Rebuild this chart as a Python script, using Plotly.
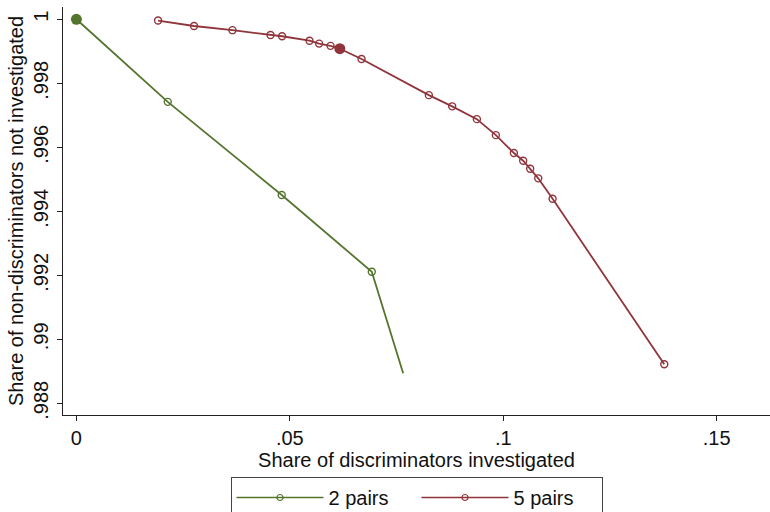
import plotly.graph_objects as go

# ---- data ----
green_x = [0.0, 0.0214, 0.0481, 0.0692, 0.07655]
green_y = [1.0, 0.99742, 0.99451, 0.99211, 0.98894]
green_marked = [1, 2, 3]          # indices drawn with hollow markers
green_highlight = [0]             # index drawn with the big filled marker

red_x = [0.01913, 0.02756, 0.03656, 0.04547, 0.04819, 0.05461, 0.05686, 0.05953,
         0.06171, 0.06680, 0.08257, 0.08803, 0.09382, 0.09827, 0.10249, 0.10467,
         0.10631, 0.10819, 0.11156, 0.13772]
red_y = [0.99996, 0.99979, 0.99966, 0.99951, 0.99947, 0.99933, 0.99924, 0.99917,
         0.99908, 0.99876, 0.99763, 0.99728, 0.99688, 0.99638, 0.99582, 0.99558,
         0.99533, 0.99503, 0.99439, 0.98922]
red_marked = [i for i in range(len(red_x)) if i != 8]
red_highlight = [8]

series_names = ["2 pairs", "5 pairs"]
x_ticks = [0, 0.05, 0.1, 0.15]
x_ticklabels = ["0", ".05", ".1", ".15"]
y_ticks = [0.988, 0.99, 0.992, 0.994, 0.996, 0.998, 1.0]
y_ticklabels = [".988", ".99", ".992", ".994", ".996", ".998", "1"]
x_title = "Share of discriminators investigated"
y_title = "Share of non-discriminators not investigated"

GREEN = "#55752F"
RED = "#90353B"
FONT = "Liberation Sans, Arial, sans-serif"
FS = 20

fig = go.Figure()

def add_series(xs, ys, marked, highlight, color, name):
    fig.add_trace(go.Scatter(x=xs, y=ys, mode="lines", line=dict(color=color, width=1.8),
                             showlegend=False, hoverinfo="skip"))
    fig.add_trace(go.Scatter(x=[xs[i] for i in marked], y=[ys[i] for i in marked],
                             mode="markers",
                             marker=dict(symbol="circle-open", size=7, color=color,
                                         line=dict(width=1.4, color=color)),
                             showlegend=False))
    fig.add_trace(go.Scatter(x=[xs[i] for i in highlight], y=[ys[i] for i in highlight],
                             mode="markers",
                             marker=dict(symbol="circle", size=11, color=color),
                             showlegend=False))
    # legend entry
    fig.add_trace(go.Scatter(x=[None], y=[None], mode="lines+markers", name=name,
                             line=dict(color=color, width=1.3),
                             marker=dict(symbol="circle-open", size=6, color=color,
                                         line=dict(width=1.2, color=color))))

add_series(green_x, green_y, green_marked, green_highlight, GREEN, series_names[0])
add_series(red_x, red_y, red_marked, red_highlight, RED, series_names[1])

axis_common = dict(showgrid=False, zeroline=False, showline=True, linecolor="#222",
                   linewidth=1.3, ticks="outside", ticklen=5, tickcolor="#222",
                   tickwidth=1.3, tickfont=dict(family=FONT, size=FS, color="#111"),
                   mirror=False)

fig.update_xaxes(range=[-0.00314, 0.16249], tickvals=x_ticks, ticktext=x_ticklabels,
                 title=dict(text=x_title, font=dict(family=FONT, size=FS, color="#111"),
                            standoff=0),
                 **axis_common)
fig.update_yaxes(range=[0.987634, 1.000384], tickvals=y_ticks, ticktext=y_ticklabels,
                 tickangle=-90, ticklabelstandoff=1,
                 title=dict(text=y_title, font=dict(family=FONT, size=FS, color="#111"),
                            standoff=0),
                 **axis_common)

fig.update_layout(
    width=770, height=512,
    margin=dict(l=63, r=0, t=7, b=97, autoexpand=False),
    paper_bgcolor="white", plot_bgcolor="white",
    font=dict(family=FONT, size=FS, color="#111"),
    legend=dict(orientation="h", xanchor="center", x=0.5, yanchor="top", y=-0.152,
                bordercolor="#444", borderwidth=1, bgcolor="white",
                font=dict(family=FONT, size=FS, color="#111"),
                itemwidth=87, entrywidth=83, entrywidthmode="pixels",
                tracegroupgap=0),
)

fig.write_html("out.html")
